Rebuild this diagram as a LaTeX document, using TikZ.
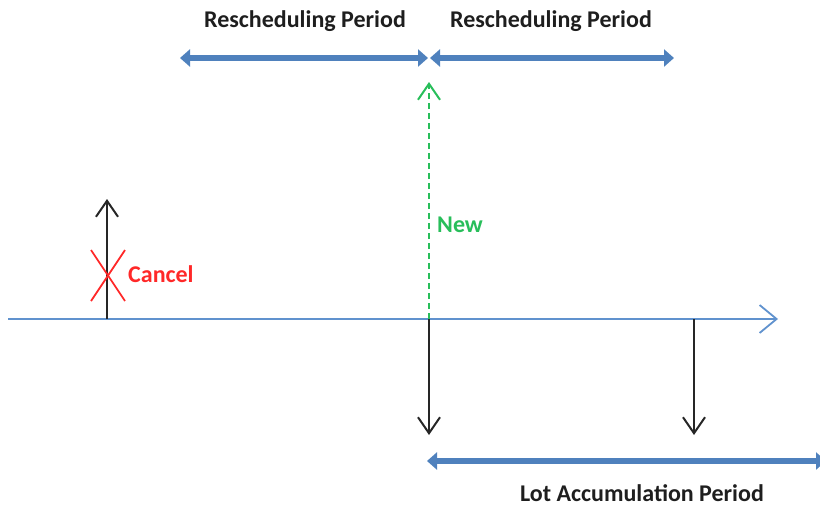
\documentclass[tikz,border=0pt]{standalone}
\usepackage{fontspec}
\setmainfont{Carlito}
\usetikzlibrary{arrows.meta}
\definecolor{thickblue}{RGB}{79,129,189}
\definecolor{lineblue}{RGB}{96,146,206}
\definecolor{newgreen}{RGB}{40,190,90}
\definecolor{cancelred}{RGB}{255,40,40}
\definecolor{txt}{RGB}{30,30,30}
\tikzset{
  lbl/.style={font=\fontsize{24}{28}\selectfont\bfseries, inner sep=0pt, text=txt},
  period/.style={line width=6.5pt, thickblue, {Triangle[width=17pt,length=10pt]}-{Triangle[width=17pt,length=10pt]}},
  event/.style={line width=2pt, black!85, -{Straight Barb[length=16pt,width=22pt,line width=2pt]}},
  axis/.style={line width=1.6pt, lineblue, -{Straight Barb[length=17pt,width=28pt,line width=1.8pt]}},
  newarrow/.style={line width=2pt, newgreen, dash pattern=on 6pt off 4pt, -{Straight Barb[length=16pt,width=22pt,line width=2pt]}},
}
\begin{document}
\begin{tikzpicture}[x=1pt,y=-1pt]
\useasboundingbox (0,0) rectangle (820,506);
% timeline
\coordinate (axL) at (8,319);
\coordinate (axR) at (778,319);
\draw[axis] (axL) -- (axR);
% cancel
\coordinate (cb) at (107,319);
\coordinate (ct) at (107,199);
\draw[event] (cb) -- (ct);
\coordinate (x1) at (91,250); \coordinate (x2) at (125,301);
\coordinate (x3) at (125,250); \coordinate (x4) at (91,301);
\draw[cancelred, line width=1.8pt] (x1) -- (x2) (x3) -- (x4);
\node[lbl, text=cancelred, anchor=west] (cancel) at (128,274) {Cancel};
% new
\coordinate (nb) at (429,319);
\coordinate (nt) at (429,82);
\draw[newarrow] (nb) -- (nt);
\node[lbl, text=newgreen, anchor=west] (new) at (437,225) {New};
% down arrows
\coordinate (d1t) at (429,319); \coordinate (d1b) at (429,435);
\coordinate (d2t) at (694,319); \coordinate (d2b) at (694,435);
\draw[event] (d1t) -- (d1b);
\draw[event] (d2t) -- (d2b);
% rescheduling periods
\coordinate (r1a) at (180,58); \coordinate (r1b) at (428,58);
\coordinate (r2a) at (430,58); \coordinate (r2b) at (674,58);
\draw[period] (r1a) -- (r1b);
\draw[period] (r2a) -- (r2b);
\node[lbl] (rp1) at (305,21) {Rescheduling Period};
\node[lbl] (rp2) at (551,21) {Rescheduling Period};
% lot accumulation
\coordinate (la) at (427,461); \coordinate (lb) at (826,461);
\draw[period] (la) -- (lb);
\node[lbl, anchor=base, text depth=0pt] (lap) at (642,501) {Lot Accumulation Period};
\end{tikzpicture}
\end{document}
